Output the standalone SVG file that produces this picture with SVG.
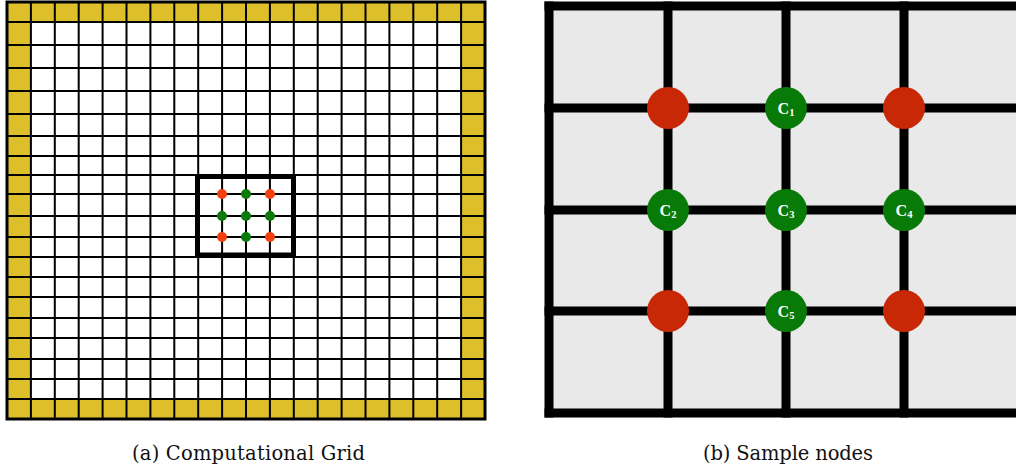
<svg xmlns="http://www.w3.org/2000/svg" width="1016" height="472" viewBox="0 0 1016 472">
<style>
.gl{stroke:#000;stroke-width:2;fill:none}
.thick{stroke:#000;stroke-width:9;fill:none;stroke-linecap:square}
.red{fill:#c92806}
.green{fill:#077a07}
.sred{fill:#f2400f}
.sgreen{fill:#0a7a0a}
.lbl{font-family:"Liberation Serif","DejaVu Serif",serif;font-weight:bold;font-size:16px;fill:#fff;text-anchor:middle}
.sub{font-size:10.5px}
.cap{font-family:"DejaVu Serif","Liberation Serif",serif;font-size:19.5px;fill:#111}
</style>
<rect width="1016" height="472" fill="#fff"/>
<g id="panel-a">
<rect x="7" y="2" width="478" height="417" fill="#dcbf2a"/>
<rect x="30.9" y="22" width="430.2" height="377" fill="#fff"/>
<g id="grid-a" class="gl">
<path d="M30.9 2V419M54.8 2V419M78.7 2V419M102.6 2V419M126.5 2V419M150.4 2V419M174.3 2V419M198.2 2V419M222.1 2V419M246 2V419M269.9 2V419M293.8 2V419M317.7 2V419M341.6 2V419M365.5 2V419M389.4 2V419M413.3 2V419M437.2 2V419M461.1 2V419"/>
<path d="M7 22H485M7 45H485M7 68H485M7 91H485M7 114H485M7 136H485M7 156H485M7 175H485M7 194H485M7 216H485M7 237H485M7 257H485M7 277H485M7 297H485M7 318H485M7 338H485M7 359H485M7 379H485M7 399H485"/>
<rect x="7" y="2" width="478" height="417" stroke-width="3"/>
</g>
<rect id="zoom-box" x="197.5" y="176.5" width="96" height="78.5" fill="none" stroke="#000" stroke-width="5"/>
<g id="sample-dots">
<circle class="sred" cx="222" cy="194" r="5"/>
<circle class="sgreen" cx="246" cy="194" r="5"/>
<circle class="sred" cx="270" cy="194" r="5"/>
<circle class="sgreen" cx="222" cy="216" r="5"/>
<circle class="sgreen" cx="246" cy="216" r="5"/>
<circle class="sgreen" cx="270" cy="216" r="5"/>
<circle class="sred" cx="222" cy="237" r="5"/>
<circle class="sgreen" cx="246" cy="237" r="5"/>
<circle class="sred" cx="270" cy="237" r="5"/>
</g>
<text class="cap" x="132" y="459.5" textLength="233">(a) Computational Grid</text>
</g>
<g id="panel-b">
<rect x="549" y="6" width="480" height="407" fill="#e9e9e9"/>
<g id="connectors" class="thick">
<path d="M549 6V413M668 6V413M786 6V413M904 6V413"/>
<path d="M549 6H1030M549 108H1030M549 210H1030M549 311H1030M549 413H1030"/>
</g>
<g id="node-r1"><circle class="red" cx="668" cy="108" r="21"/></g>
<g id="node-c1"><circle class="green" cx="786" cy="108" r="21"/><text class="lbl" x="786" y="113.5">C<tspan class="sub" dy="2">1</tspan></text></g>
<g id="node-r2"><circle class="red" cx="904" cy="108" r="21"/></g>
<g id="node-c2"><circle class="green" cx="668" cy="210" r="21"/><text class="lbl" x="668" y="215.5">C<tspan class="sub" dy="2">2</tspan></text></g>
<g id="node-c3"><circle class="green" cx="786" cy="210" r="21"/><text class="lbl" x="786" y="215.5">C<tspan class="sub" dy="2">3</tspan></text></g>
<g id="node-c4"><circle class="green" cx="904" cy="210" r="21"/><text class="lbl" x="904" y="215.5">C<tspan class="sub" dy="2">4</tspan></text></g>
<g id="node-r3"><circle class="red" cx="668" cy="311" r="21"/></g>
<g id="node-c5"><circle class="green" cx="786" cy="311" r="21"/><text class="lbl" x="786" y="316.5">C<tspan class="sub" dy="2">5</tspan></text></g>
<g id="node-r4"><circle class="red" cx="904" cy="311" r="21"/></g>
<text class="cap" x="703" y="459.5" textLength="170">(b) Sample nodes</text>
</g>
</svg>
